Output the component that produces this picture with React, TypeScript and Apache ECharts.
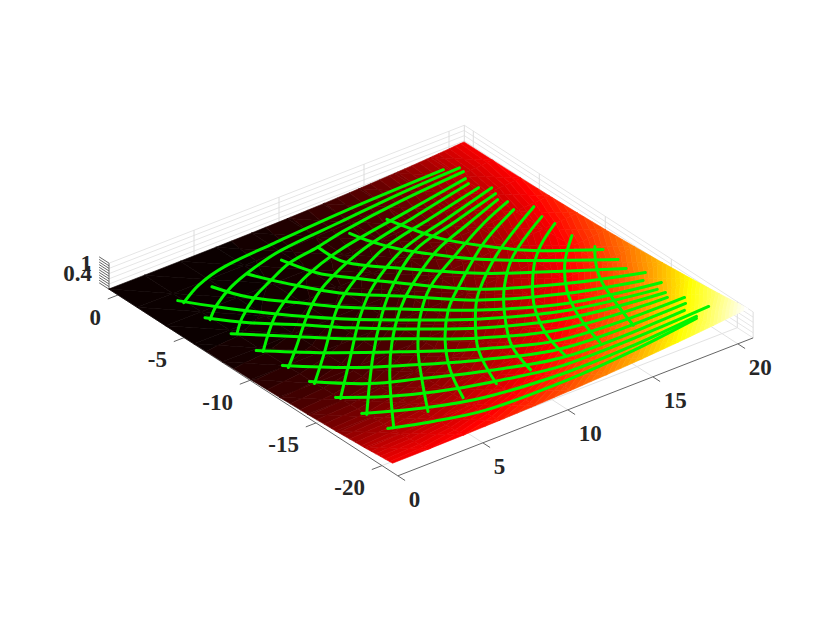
import React, { useEffect, useRef } from "react";
import * as echarts from "echarts";

const W = 830;
const H = 623;

// axis ticks and limits of the box
const xTicks = [0, 5, 10, 15, 20];
const yTicks = [0, -5, -10, -15, -20];
const xTickLabels = ["0", "5", "10", "15", "20"];
const yTickLabels = ["0", "-5", "-10", "-15", "-20"];
const zGrid = [0, 0.2, 0.4, 0.6, 0.8, 1];
const zMarks = [0, 0.1, 0.2, 0.3, 0.4, 0.5, 0.6, 0.7, 0.8, 0.9, 1];
const zTickLabels = ["0.4", "1"];
const zLabelHeights = [0.6, 1];
const xEnd = 20.9;
const yBack = 0.68;
const yFront = -21.2;

// surface samples
const surfX = [0, 2.1, 4.2, 6.3, 8.4, 10.5, 12.6, 14.7, 16.8, 18.9, 20.9];
const surfY = [0.7, -1.45, -3.6, -5.75, -7.9, -10.05, -12.2, -14.35, -16.5, -18.65, -20.8];
const surfZ = [
  [0, 0, 0.003, 0.01, 0.023, 0.044, 0.076, 0.121, 0.181, 0.258, 0.354],
  [0, 0.001, 0.004, 0.011, 0.025, 0.047, 0.08, 0.125, 0.185, 0.263, 0.359],
  [0.003, 0.004, 0.008, 0.017, 0.032, 0.055, 0.089, 0.136, 0.198, 0.277, 0.375],
  [0.01, 0.011, 0.017, 0.027, 0.044, 0.07, 0.107, 0.156, 0.221, 0.302, 0.402],
  [0.023, 0.025, 0.032, 0.044, 0.064, 0.093, 0.133, 0.185, 0.253, 0.338, 0.442],
  [0.044, 0.047, 0.055, 0.07, 0.093, 0.125, 0.169, 0.225, 0.297, 0.386, 0.494],
  [0.076, 0.08, 0.089, 0.107, 0.133, 0.169, 0.216, 0.277, 0.354, 0.448, 0.561],
  [0.121, 0.125, 0.136, 0.156, 0.185, 0.225, 0.277, 0.343, 0.425, 0.524, 0.643],
  [0.181, 0.185, 0.198, 0.221, 0.253, 0.297, 0.354, 0.425, 0.512, 0.617, 0.742],
  [0.258, 0.263, 0.277, 0.302, 0.338, 0.386, 0.448, 0.524, 0.617, 0.729, 0.861],
  [0.354, 0.359, 0.375, 0.402, 0.442, 0.494, 0.561, 0.643, 0.742, 0.861, 1],
];

// green mesh, curves running up to the far edge
const meshUp = [
  [[1.92,-2.88],[3.43,-2.09],[5.29,-1.55],[8.35,-1.27],[12.40,-0.97],[18.30,-0.76]],
  [[1.92,-4.67],[2.98,-3.86],[4.45,-3.05],[6.08,-2.45],[8.22,-1.91],[11.79,-1.57],[15.48,-1.22],[18.97,-1.04]],
  [[2.11,-6.28],[3.16,-5.36],[4.67,-4.36],[6.06,-3.70],[7.80,-2.97],[9.66,-2.64],[11.53,-2.23],[15.05,-1.74],[18.90,-1.40]],
  [[2.05,-8.13],[4.29,-6.19],[6.06,-5.07],[7.78,-4.22],[10.27,-3.41],[14.29,-2.66],[18.59,-1.91]],
  [[2.07,-9.83],[3.29,-8.83],[5.96,-6.57],[7.84,-5.32],[11.05,-3.98],[14.76,-3.11],[18.42,-2.32]],
  [[2.12,-11.55],[4.15,-9.77],[6.91,-7.26],[8.76,-5.99],[11.75,-4.49],[15.18,-3.63],[18.56,-2.84]],
  [[2.22,-13.20],[4.66,-10.88],[7.48,-8.21],[9.57,-6.58],[12.46,-5.01],[15.78,-4.07],[19.02,-3.18]],
  [[2.27,-14.93],[5.63,-11.28],[8.23,-8.75],[10.24,-7.07],[12.92,-5.34],[15.90,-4.48],[18.83,-3.67]],
  [[2.52,-16.47],[5.14,-13.03],[7.06,-10.85],[9.13,-8.89],[10.91,-7.56],[13.69,-5.91],[16.16,-4.98],[18.58,-4.12]],
  [[4.59,-16.30],[6.11,-14.05],[7.60,-11.98],[9.46,-9.87],[11.44,-8.16],[14.06,-6.70],[16.78,-5.33],[18.82,-4.51]],
  [[6.58,-16.29],[7.64,-14.12],[9.09,-12.02],[10.83,-10.13],[12.43,-8.88],[15.70,-6.64],[18.60,-5.19]],
  [[8.51,-16.22],[9.72,-13.53],[11.40,-11.29],[12.81,-9.79],[15.65,-7.66],[19.47,-5.51]],
  [[10.47,-16.18],[11.15,-14.05],[12.69,-11.71],[14.16,-9.94],[16.10,-8.20],[19.21,-6.37]],
  [[12.48,-16.08],[13.00,-14.14],[14.21,-11.87],[16.16,-9.51],[17.60,-8.24],[19.29,-7.16]],
  [[14.42,-16.13],[15.09,-13.88],[16.08,-11.87],[17.53,-9.98],[19.24,-8.39]],
  [[16.51,-15.87],[17.19,-13.74],[17.82,-12.09],[18.56,-10.84],[19.45,-9.70]],
];

// green mesh, curves running across to the right
const meshAcross = [
  [[13.61,-2.59],[13.93,-3.77],[14.45,-5.20],[15.48,-6.70],[17.08,-8.39],[19.57,-10.11]],
  [[11.54,-2.55],[11.87,-3.73],[12.44,-4.89],[13.53,-6.32],[14.72,-7.61],[16.54,-9.05],[19.56,-11.15]],
  [[9.66,-2.64],[9.80,-4.32],[11.41,-6.14],[13.96,-8.53],[15.89,-9.83],[19.35,-11.95]],
  [[7.68,-2.57],[8.25,-4.35],[8.98,-5.31],[10.60,-7.12],[13.10,-9.58],[16.49,-11.43],[19.81,-12.70]],
  [[5.72,-2.61],[6.54,-4.15],[7.94,-6.23],[9.89,-7.97],[12.50,-10.30],[15.95,-12.09],[19.30,-13.17]],
  [[3.78,-2.55],[4.47,-4.11],[5.98,-5.85],[7.18,-7.15],[9.19,-8.83],[11.96,-10.96],[15.41,-12.74],[19.83,-13.77]],
  [[1.82,-2.59],[2.87,-4.00],[4.50,-5.93],[6.53,-7.93],[8.59,-9.55],[11.47,-11.55],[15.03,-13.20],[19.31,-14.12]],
  [[1.85,-4.41],[3.13,-5.87],[4.79,-7.29],[6.39,-8.78],[8.10,-10.14],[10.98,-12.14],[14.59,-13.73],[19.43,-14.53]],
  [[1.90,-6.13],[4.14,-8.08],[5.79,-9.50],[7.56,-10.79],[10.44,-12.79],[14.05,-14.38],[19.23,-14.91]],
  [[1.86,-7.89],[3.98,-9.65],[6.85,-11.65],[9.84,-13.52],[13.51,-15.04],[19.83,-15.35]],
  [[1.97,-9.54],[4.22,-11.40],[6.09,-12.56],[9.24,-14.24],[13.02,-15.63],[19.54,-15.77]],
  [[2.05,-11.29],[4.06,-12.97],[6.10,-13.93],[8.59,-15.02],[12.53,-16.22],[19.12,-16.20]],
  [[2.10,-13.01],[3.95,-14.26],[5.99,-15.22],[8.51,-16.01],[12.10,-16.74],[20.19,-16.56]],
  [[2.15,-14.73],[4.77,-16.01],[7.48,-16.84],[11.66,-17.27],[15.46,-17.20],[19.22,-16.90]],
  [[2.25,-16.39],[4.22,-17.09],[6.78,-17.70],[11.23,-17.79],[15.19,-17.53],[19.11,-17.03]],
];

const meshCurves = [...meshUp, ...meshAcross];

// The grid is only a data-to-pixel scale; this tilts it into the box view.
const X_MIN = -5, X_MAX = 30, Y_MIN = -30, Y_MAX = 5;
function tilt(p: number[], z: number): [number, number] {
  const mx = X_MIN + (p[0] / W) * (X_MAX - X_MIN);
  const my = Y_MIN + ((H - p[1]) / H) * (Y_MAX - Y_MIN);
  return [118 + 17 * mx - 13.2 * my, 295 - 6.6 * mx - 8.53 * my - 26 * z];
}

function hot(i: number): string {
  const r = i <= 24 ? i / 24 : 1;
  const g = i <= 24 ? 0 : i <= 48 ? (i - 24) / 24 : 1;
  const b = i <= 48 ? 0 : (i - 48) / 16;
  return `rgb(${Math.round(r * 255)},${Math.round(g * 255)},${Math.round(b * 255)})`;
}

type V = [number, number, number];
function clip(poly: V[], level: number, keepAbove: boolean): V[] {
  const out: V[] = [];
  const inside = (v: V) => (keepAbove ? v[2] >= level : v[2] <= level);
  for (let k = 0; k < poly.length; k++) {
    const a = poly[k];
    const b = poly[(k + 1) % poly.length];
    if (inside(a)) out.push(a);
    if (inside(a) !== inside(b)) {
      const t = (level - a[2]) / (b[2] - a[2]);
      out.push([a[0] + (b[0] - a[0]) * t, a[1] + (b[1] - a[1]) * t, level]);
    }
  }
  return out;
}

// colour bands of the surface: each mesh triangle is cut along the colormap levels
function bands(tri: V[], children: any[]) {
  const zs = tri.map((v) => v[2]);
  const lo = Math.max(1, Math.ceil(Math.min(...zs) * 64));
  const hi = Math.min(64, Math.max(1, Math.ceil(Math.max(...zs) * 64)));
  for (let i = lo; i <= hi; i++) {
    let poly = clip(tri, (i - 1) / 64, true);
    if (poly.length) poly = clip(poly, i / 64, false);
    if (poly.length < 3) {
      if (i === 1 && lo === hi) poly = tri;
      else continue;
    }
    const col = hot(i);
    children.push({
      type: "polygon",
      shape: { points: poly.map((v) => [v[0], v[1]]) },
      style: { fill: col, stroke: col, lineWidth: 0.6, lineJoin: "round" },
    });
  }
}

const renderCell = (params: any, api: any) => {
  const i = api.value(0);
  const j = api.value(1);
  const vert = (a: number, b: number): V => {
    const z = surfZ[a][b];
    const p = tilt(api.coord([surfX[a], surfY[b]]), z);
    return [p[0], p[1], z];
  };
  const v00 = vert(i, j), v10 = vert(i + 1, j), v01 = vert(i, j + 1), v11 = vert(i + 1, j + 1);
  const children: any[] = [];
  bands([v00, v10, v11], children);
  bands([v00, v11, v01], children);
  return { type: "group", children };
};

const renderSegment = (color: string, width: number) => (params: any, api: any) => {
  const a = tilt(api.coord([api.value(0), api.value(1)]), api.value(2));
  const b = tilt(api.coord([api.value(3), api.value(4)]), api.value(5));
  return {
    type: "line",
    shape: { x1: a[0], y1: a[1], x2: b[0], y2: b[1] },
    style: { stroke: color, lineWidth: width, fill: "none" },
  };
};

const renderCurve = (params: any, api: any) => {
  const pts = meshCurves[api.value(0)].map((p) => tilt(api.coord(p), 0));
  return {
    type: "polyline",
    shape: { points: pts, smooth: 0.35 },
    style: { stroke: "#00f500", lineWidth: 3, fill: "none", lineCap: "round" },
  };
};

const font = { fontFamily: "Liberation Serif", fontSize: 23, fontWeight: "bold", fill: "#262626" };
const renderLabel =
  (labels: string[], dx: number, dy: number, align: string) => (params: any, api: any) => {
    const a = tilt(api.coord([api.value(0), api.value(1)]), api.value(2));
    return {
      type: "text",
      x: a[0] + dx,
      y: a[1] + dy,
      style: { ...font, text: labels[params.dataIndex], textAlign: align, textVerticalAlign: "middle" },
    };
  };

const wallH: number[][] = [];
zGrid.forEach((z) => {
  wallH.push([0, yBack, z, xEnd, yBack, z], [xEnd, yBack, z, xEnd, yFront, z]);
});
const wallV: number[][] = [];
xTicks.slice(1).forEach((x) => wallV.push([x, yBack, 0, x, yBack, 1]));
yTicks.forEach((y) => wallV.push([xEnd, y, 0, xEnd, y, 1]));
wallV.push([xEnd, yBack, 0, xEnd, yBack, 1], [xEnd, yFront, 0, xEnd, yFront, 1]);

const floorLines: number[][] = [];
xTicks.slice(1).forEach((x) => floorLines.push([x, yBack, 0, x, yFront, 0]));
yTicks.forEach((y) => floorLines.push([0, y, 0, xEnd, y, 0]));

const axisLines: number[][] = [
  [0, yBack, 0, 0, yFront, 0],
  [0, yFront, 0, xEnd, yFront, 0],
  [0, yBack, 0, 0, yBack, 1],
];
const tickLines: number[][] = [];
xTicks.forEach((x) => tickLines.push([x, yFront, 0, x, yFront - 0.55, 0]));
yTicks.forEach((y) => tickLines.push([0, y, 0, -0.6, y, 0]));
zMarks.forEach((z) => tickLines.push([0, yBack, z, 0, yBack + 0.75, z]));

const cells: number[][] = [];
for (let i = 0; i < surfX.length - 1; i++) {
  for (let j = 0; j < surfY.length - 1; j++) cells.push([i, j]);
}

export default function App() {
  const ref = useRef<HTMLDivElement>(null);
  useEffect(() => {
    const chart = echarts.init(ref.current!, undefined, { renderer: "svg" });
    const seg = (data: number[][], color: string, width: number) => ({
      type: "custom",
      silent: true,
      clip: false,
      data,
      renderItem: renderSegment(color, width),
    });
    const lab = (data: number[][], labels: string[], dx: number, dy: number, align: string) => ({
      type: "custom",
      silent: true,
      clip: false,
      data,
      renderItem: renderLabel(labels, dx, dy, align),
    });
    chart.setOption({
      animation: false,
      backgroundColor: "#ffffff",
      grid: [
        { left: 0, top: 0, width: W, height: H },
        { left: 0, top: 0, width: W, height: H },
      ],
      xAxis: [
        { type: "value", min: X_MIN, max: X_MAX, show: false, gridIndex: 0 },
        { type: "value", min: 0.024 - 4.79, max: 28.76, show: false, gridIndex: 1 },
      ],
      yAxis: [
        { type: "value", min: Y_MIN, max: Y_MAX, show: false, gridIndex: 0 },
        { type: "value", min: -27.69, max: 3.81, show: false, gridIndex: 1 },
      ],
      series: [
        seg(wallH, "#e6e6e6", 1),
        seg(wallV, "#dcdcdc", 1),
        seg(floorLines, "#e2e2e2", 1),
        seg(axisLines, "#666666", 1),
        seg(tickLines, "#666666", 1),
        { type: "custom", silent: true, clip: false, data: cells, renderItem: renderCell },
        {
          type: "custom",
          silent: true,
          clip: false,
          xAxisIndex: 1,
          yAxisIndex: 1,
          data: meshCurves.map((_, i) => [i, 0]),
          renderItem: renderCurve,
        },
        lab(xTicks.map((x) => [x, yFront, 0]), xTickLabels, 11, 24, "left"),
        lab(yTicks.map((y) => [0, y, 0]), yTickLabels, -17, 22, "right"),
        lab(zLabelHeights.map((z) => [0, yBack, z]), zTickLabels, -17, 0, "right"),
      ],
    });
    return () => chart.dispose();
  }, []);
  return <div ref={ref} style={{ position: "absolute", left: 0, top: 0, width: W, height: H }} />;
}
